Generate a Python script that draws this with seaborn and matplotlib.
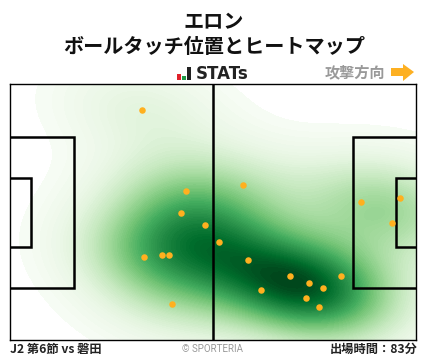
import matplotlib
matplotlib.use("Agg")
import matplotlib.pyplot as plt
import seaborn as sns
import pandas as pd
from matplotlib.patches import Rectangle, Polygon

title_lines = ["エロン", "ボールタッチ位置とヒートマップ"]
match_label = "J2 第6節 vs 磐田"
minutes_label = "出場時間：83分"
direction_label = "攻撃方向"
credit_label = "© SPORTERIA"

touch_x = [34.1, 45.5, 44.2, 50.4, 60.2, 90.7, 100.8, 98.7, 34.6, 39.3, 41.1,
           41.8, 54.0, 61.5, 72.4, 77.3, 80.9, 85.5, 64.9, 76.5, 79.9]
touch_y = [61.1, 39.6, 33.8, 30.7, 41.2, 36.7, 37.8, 31.2, 22.1, 22.6, 22.6,
           9.6, 26.1, 21.3, 17.1, 15.2, 13.9, 17.1, 13.3, 11.2, 9.0]

FIELD_L, FIELD_W = 105, 68
BOX_D, BOX_W = 16.4, 40.3
SIX_D, SIX_W = 5.3, 18.3

plt.rcParams['font.family'] = ['Noto Sans CJK JP', 'DejaVu Sans']
fig = plt.figure(figsize=(4.28, 3.59), dpi=100, facecolor='white')
ax = fig.add_axes([10.4/428, 1-340.4/359, 406/428, 256/359])

df = pd.DataFrame({'x': touch_x, 'y': touch_y})
sns.kdeplot(data=df, x='x', y='y', fill=True, cmap='Greens', levels=80,
            thresh=0.016, bw_adjust=1.12, ax=ax, zorder=1, gridsize=200, cut=8)
ax.set_xlim(0, FIELD_L)
ax.set_ylim(0, FIELD_W)
ax.set_xlabel(''); ax.set_ylabel('')
ax.set_xticks([]); ax.set_yticks([])
for s in ax.spines.values():
    s.set_linewidth(1.0); s.set_color('black'); s.set_zorder(5)

lw = 1.8
mid = FIELD_W/2
ax.axvline(FIELD_L/2, color='black', lw=lw, zorder=3)
for x0, sign in [(0, 1), (FIELD_L, -1)]:
    ax.plot([x0, x0+sign*BOX_D, x0+sign*BOX_D, x0],
            [mid-BOX_W/2, mid-BOX_W/2, mid+BOX_W/2, mid+BOX_W/2],
            color='black', lw=lw, zorder=3, solid_joinstyle='miter')
    ax.plot([x0, x0+sign*SIX_D, x0+sign*SIX_D, x0],
            [mid-SIX_W/2, mid-SIX_W/2, mid+SIX_W/2, mid+SIX_W/2],
            color='black', lw=lw, zorder=3, solid_joinstyle='miter')

sns.scatterplot(data=df, x='x', y='y', color='#ffb01f', s=22, linewidth=0,
                ax=ax, zorder=4, legend=False)
ax.set_xlabel(''); ax.set_ylabel('')

def fx(px): return px/428
def fy(py): return 1-py/359

fig.text(fx(214), fy(22), title_lines[0], ha='center', va='center',
         fontsize=14.5, fontweight='bold', color='#111111')
fig.text(fx(214), fy(46.5), title_lines[1], ha='center', va='center',
         fontsize=14.5, fontweight='bold', color='#111111')

fig.text(fx(196), fy(74), "STATs", ha='left', va='center', fontsize=12,
         fontweight='bold', color='#222222', family='DejaVu Sans')
for x0, y0, w, h, c in [(177, 74, 3.5, 6, '#e0202a'), (182, 76, 3.5, 4, '#1f9a45'),
                        (187, 67, 3.5, 13, '#222222')]:
    fig.add_artist(Rectangle((fx(x0), fy(y0+h)), w/428, h/359, transform=fig.transFigure,
                             color=c, lw=0))

fig.text(fx(385), fy(72), direction_label, ha='right', va='center', fontsize=10.9,
         fontweight='bold', color='#999999')
arrow = [(391, 68), (403, 68), (403, 64), (414, 72), (403, 81), (403, 76), (391, 76)]
fig.add_artist(Polygon([(fx(a), fy(b)) for a, b in arrow], closed=True,
                       transform=fig.transFigure, color='#fdb022', lw=0))

fig.text(fx(10), fy(349.5), match_label, ha='left', va='center', fontsize=8.8,
         fontweight='bold', color='#222222')
fig.text(fx(418), fy(349.5), minutes_label, ha='right', va='center', fontsize=8.8,
         fontweight='bold', color='#222222')
fig.text(fx(213), fy(348.5), credit_label, ha='center', va='center', fontsize=7,
         color='#999999', family='Roboto')

fig.savefig('out.png', dpi=100, facecolor='white')
